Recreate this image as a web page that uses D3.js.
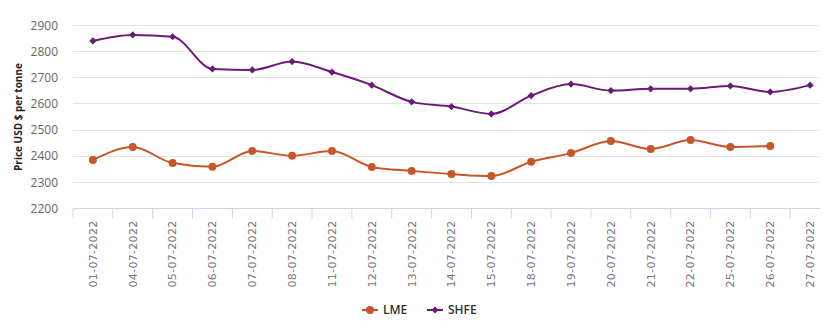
<!DOCTYPE html>
<html><head><meta charset="utf-8">
<script src="https://cdn.jsdelivr.net/npm/d3@7"></script>
<style>body{margin:0;background:#fff;overflow:hidden}</style>
</head><body><div id="chart"></div>
<script>
const categories = ["01-07-2022","04-07-2022","05-07-2022","06-07-2022","07-07-2022","08-07-2022","11-07-2022","12-07-2022","13-07-2022","14-07-2022","15-07-2022","18-07-2022","19-07-2022","20-07-2022","21-07-2022","22-07-2022","25-07-2022","26-07-2022","27-07-2022"];
const lmeValues = [2384,2433,2372,2358,2418,2400,2418,2357,2342,2330,2322,2377,2410,2456,2426,2460,2433,2437,null];
const shfeValues = [2839,2862,2855,2732,2728,2760,2720,2670,2606,2588,2560,2630,2674,2649,2656,2656,2667,2644,2670];
const yTicks = [2200,2300,2400,2500,2600,2700,2800,2900];

(function(){
const W=828,H=331;
const mLeft=73, mRight=830, mTop=25, mBottom=208;
const svg=d3.select("#chart").append("svg").attr("width",W).attr("height",H);
const x=d3.scaleBand().domain(categories).range([mLeft,mRight]);
const y=d3.scaleLinear().domain([2200,2900]).range([mBottom,mTop]);

// gridlines
svg.append("g").selectAll("line").data(yTicks.filter(t=>t>2200)).join("line")
  .attr("x1",mLeft).attr("x2",820).attr("y1",d=>Math.round(y(d))+0.5).attr("y2",d=>Math.round(y(d))+0.5)
  .attr("stroke","#e2e2e2").attr("stroke-width",1);

// y labels
const yAxis=d3.axisLeft(y).tickValues(yTicks).tickSize(0).tickPadding(0).tickFormat(d3.format("d"));
const gy=svg.append("g").attr("transform",`translate(58,0)`).call(yAxis);
gy.select(".domain").remove();
gy.selectAll("text").attr("font-family","Open Sans, sans-serif").attr("font-size","12px").attr("fill","#666").attr("dy","0.35em");

// x axis
const xAxis=d3.axisBottom(x).tickSizeOuter(0).tickSizeInner(10);
const gx=svg.append("g").attr("transform",`translate(0,${mBottom+0.5})`).call(xAxis);
gx.select(".domain").attr("stroke","#ccd6eb").attr("d",`M${mLeft},0H820`);
gx.selectAll(".tick line").attr("stroke","#ccd6eb").attr("transform",`translate(${-x.bandwidth()/2},0)`);
gx.selectAll(".tick text").attr("font-family","DejaVu Sans, sans-serif").attr("font-size","11px").attr("fill","#777")
  .attr("letter-spacing","0.3px")
  .attr("transform","rotate(-90)").attr("text-anchor","end").attr("x",-12).attr("y",0).attr("dy","0.35em");

// y title
svg.append("text").attr("transform","translate(18,117) rotate(-90)").attr("text-anchor","middle")
  .attr("dy","0.35em").attr("font-family","Open Sans, sans-serif").attr("font-weight","bold").attr("font-size","10px")
  .attr("fill","#222").text("Price USD $ per tonne");

const cx=d=>x(d)+x.bandwidth()/2;
const series=[
  {name:"LME",values:lmeValues,color:"#c9552b",marker:"circle"},
  {name:"SHFE",values:shfeValues,color:"#6a1b78",marker:"diamond"}
];
const symFor=s=>s.marker==="circle"?d3.symbol().type(d3.symbolCircle).size(50):d3.symbol().type(d3.symbolSquare).size(26);
const rotFor=s=>s.marker==="circle"?"":" rotate(45)";
const line=d3.line().defined(d=>d.v!=null).x(d=>cx(d.c)).y(d=>y(d.v)).curve(d3.curveMonotoneX);
series.forEach(s=>{
  const pts=categories.map((c,i)=>({c,v:s.values[i]}));
  svg.append("path").datum(pts).attr("d",line).attr("fill","none").attr("stroke",s.color).attr("stroke-width",2);
  svg.append("g").selectAll("path").data(pts.filter(d=>d.v!=null)).join("path")
    .attr("d",symFor(s)).attr("transform",d=>`translate(${cx(d.c)},${y(d.v)})${rotFor(s)}`).attr("fill",s.color);
});

// legend
const legend=[{name:"LME",x:362},{name:"SHFE",x:427}];
legend.forEach((l,i)=>{
  const s=series[i];
  const g=svg.append("g").attr("transform",`translate(${l.x},310)`);
  g.append("line").attr("x1",0).attr("x2",16).attr("stroke",s.color).attr("stroke-width",2);
  g.append("path").attr("d",symFor(s)()).attr("transform","translate(8,0)"+rotFor(s)).attr("fill",s.color);
  g.append("text").attr("x",21).attr("dy","0.35em").attr("font-family","Open Sans, sans-serif").attr("font-size","12px")
    .attr("font-weight","600").attr("fill","#333").text(s.name);
});
})();
</script></body></html>
